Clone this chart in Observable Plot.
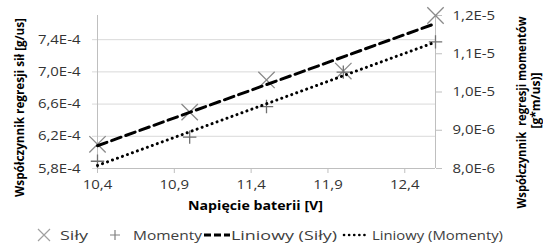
<!DOCTYPE html>
<html><head><meta charset="utf-8">
<script src="https://cdn.jsdelivr.net/npm/d3@7"></script>
<script src="https://cdn.jsdelivr.net/npm/@observablehq/plot@0.6"></script>
<style>
body{margin:0;background:#fff;}
#wrap{width:543px;height:243px;position:relative;overflow:hidden;font-family:"Open Sans",sans-serif;}
#chart svg, #legend svg{display:block;}
</style></head><body><div id="wrap"><div id="chart"></div><div id="legend"></div></div>
<script>
// ---- data ----
const voltage    = [10.4, 11.0, 11.5, 12.0, 12.6];
const forceCoef  = [6.10e-4, 6.50e-4, 6.90e-4, 7.01e-4, 7.70e-4];
const momentCoef = [8.19e-6, 8.82e-6, 9.62e-6, 1.052e-5, 1.131e-5];
const xTicks      = [10.4, 10.9, 11.4, 11.9, 12.4];
const yLeftTicks  = [5.8e-4, 6.2e-4, 6.6e-4, 7.0e-4, 7.4e-4];
const yRightTicks = [8e-6, 9e-6, 1e-5, 1.1e-5, 1.2e-5];
const xDomain      = [10.4, 12.6];
const yLeftDomain  = [5.8e-4, 7.7e-4];
const yRightDomain = [8e-6, 1.2e-5];
const xTitle = "Napięcie baterii [V]";
const yLeftTitle = "Współczynnik regresji sił [g/us]";
const yRightTitle1 = "Współczynnik  regresji momentów";
const yRightTitle2 = "[g*m/us)]";
const legendLabels = ["Siły", "Momenty", "Liniowy (Siły)", "Liniowy (Momenty)"];

// ---- helpers ----
const toLeft = v => yLeftDomain[0] + (v - yRightDomain[0]) / (yRightDomain[1] - yRightDomain[0]) * (yLeftDomain[1] - yLeftDomain[0]);
const fromLeft = v => yRightDomain[0] + (v - yLeftDomain[0]) / (yLeftDomain[1] - yLeftDomain[0]) * (yRightDomain[1] - yRightDomain[0]);
const fmtE = v => v.toExponential(1).replace(".", ",").replace("e", "E");
const fmtX = v => v.toFixed(1).replace(".", ",");

const data = voltage.map((v, i) => ({v, f: forceCoef[i], m: momentCoef[i], mL: toLeft(momentCoef[i])}));

const frameMidY = (15 + 168) / 2;
const titleOpts = {textAnchor: "middle", lineAnchor: "middle", fontWeight: "bold", fill: "#000", fontSize: 12};
const chart = Plot.plot({
  width: 543, height: 220,
  marginLeft: 97, marginRight: 108, marginTop: 15, marginBottom: 52,
  style: {fontFamily: "'Open Sans', sans-serif", fontSize: "13px", color: "#333", background: "#fff", overflow: "visible"},
  x: {domain: xDomain},
  y: {domain: yLeftDomain},
  marks: [
    Plot.ruleY(yLeftTicks, {stroke: "#d9d9d9"}),
    Plot.axisY(yLeftTicks, {anchor: "left", tickSize: 5, tickPadding: 12, stroke: "#d9d9d9", strokeOpacity: 1, fill: "#333", tickFormat: fmtE, label: null}),
    Plot.axisY(yRightTicks.map(toLeft), {anchor: "right", tickSize: 6, tickPadding: 11, stroke: "#bfbfbf", strokeOpacity: 1, fill: "#333", tickFormat: v => fmtE(fromLeft(v)), label: null}),
    Plot.axisX(xTicks, {tickSize: 5, tickPadding: 6, stroke: "#bfbfbf", strokeOpacity: 1, fill: "#333", tickFormat: fmtX, label: null}),
    Plot.ruleX(xDomain, {stroke: "#bfbfbf"}),
    Plot.ruleY(yLeftDomain.slice(0, 1), {stroke: "#bfbfbf"}),
    Plot.dot(data, {x: "v", y: "f", symbol: "times", r: 7.5, stroke: "#8a8a8a", strokeWidth: 1.3}),
    Plot.dot(data, {x: "v", y: "mL", symbol: "plus", r: 4.4, stroke: "#707070", strokeWidth: 1.3}),
    Plot.linearRegressionY(data, {x: "v", y: "f", ci: 0, stroke: "#000", strokeWidth: 3, strokeDasharray: "10,5"}),
    Plot.linearRegressionY(data, {x: "v", y: "mL", ci: 0, stroke: "#000", strokeWidth: 3, strokeDasharray: "0.1,5.2", strokeLinecap: "round"}),
    Plot.text([xTitle], {...titleOpts, frameAnchor: "bottom", dx: -11, dy: 37, fontSize: 12.5}),
    Plot.text([yLeftTitle], {...titleOpts, frameAnchor: "left", rotate: -90, dx: -77, dy: 107 - frameMidY}),
    Plot.text([yRightTitle1], {...titleOpts, frameAnchor: "right", rotate: -90, dx: 87, dy: 112 - frameMidY}),
    Plot.text([yRightTitle2], {...titleOpts, frameAnchor: "right", rotate: -90, dx: 101, dy: 100 - frameMidY})
  ]
});
document.getElementById("chart").appendChild(chart);

// stretch text widths to mimic the reference's wide rendering
const lengths = {};
lengths[xTitle] = 135; lengths[yLeftTitle] = 179; lengths[yRightTitle1] = 192;
d3.select(chart).selectAll("text").each(function() {
  const t = this.textContent;
  if (t === yRightTitle2) return;
  if (lengths[t]) {
    this.setAttribute("textLength", lengths[t]);
  } else {
    this.setAttribute("textLength", this.getComputedTextLength() * 1.15);
  }
  this.setAttribute("lengthAdjust", "spacingAndGlyphs");
});

// ---- legend ----
const lg = d3.select("#legend").append("svg").attr("width", 543).attr("height", 23)
  .style("font-family", "'Open Sans', sans-serif").style("font-size", "13px");
const cy = 15;
const g1 = lg.append("g").attr("stroke", "#a0a0a0").attr("stroke-width", 1.2);
g1.append("path").attr("d", `M${44-6},${cy-6}L${44+6},${cy+6}M${44-6},${cy+6}L${44+6},${cy-6}`);
const g2 = lg.append("g").attr("stroke", "#808080").attr("stroke-width", 1.2);
g2.append("path").attr("d", `M${115-5},${cy}L${115+5},${cy}M${115},${cy-5}L${115},${cy+5}`);
lg.append("line").attr("x1", 204).attr("x2", 230).attr("y1", cy).attr("y2", cy)
  .attr("stroke", "#000").attr("stroke-width", 3).attr("stroke-dasharray", "7,3");
lg.append("line").attr("x1", 344).attr("x2", 368).attr("y1", cy).attr("y2", cy)
  .attr("stroke", "#000").attr("stroke-width", 2.6).attr("stroke-dasharray", "0.1,5").attr("stroke-linecap", "round");
const lpos = [[60, 28], [133, 69], [231, 106], [372, 131]];
legendLabels.forEach((t, i) => {
  lg.append("text").attr("x", lpos[i][0]).attr("y", cy).attr("dy", "0.35em").attr("fill", "#404040")
    .attr("textLength", lpos[i][1]).attr("lengthAdjust", "spacingAndGlyphs").text(t);
});
</script></body></html>
